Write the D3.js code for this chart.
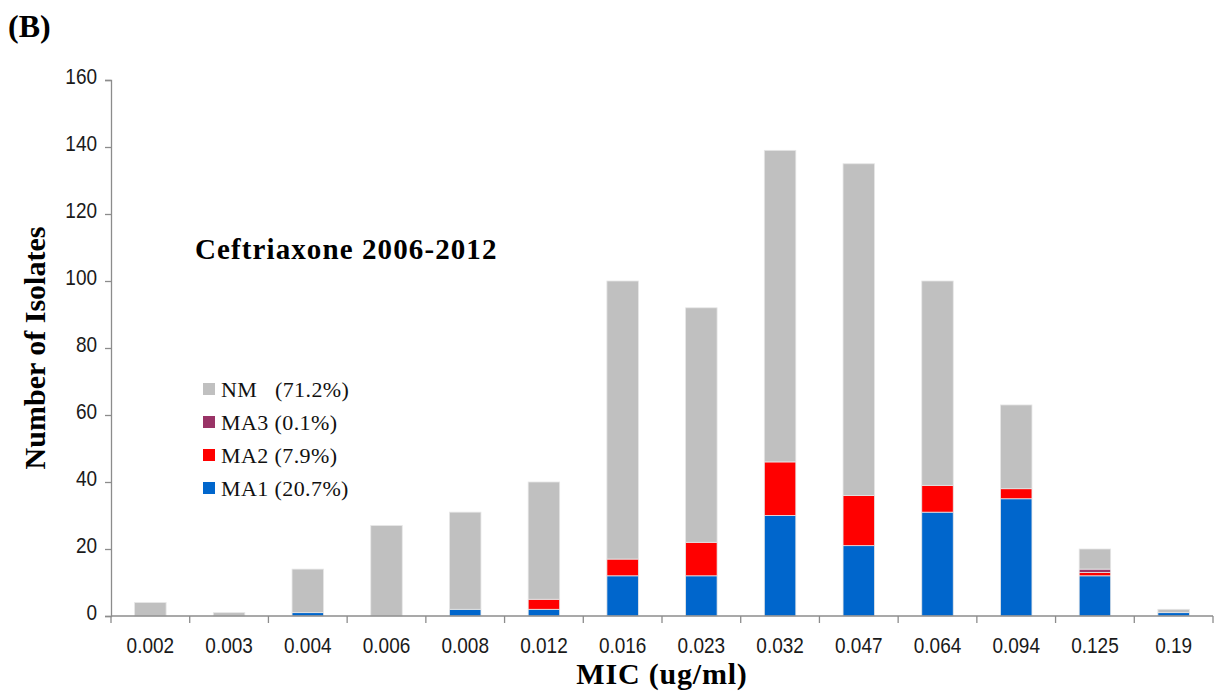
<!DOCTYPE html>
<html>
<head>
<meta charset="utf-8">
<script src="https://cdn.jsdelivr.net/npm/d3@7"></script>
<style>
  html, body { margin: 0; padding: 0; background: #fff; }
  svg { display: block; }
  .serif { font-family: "Liberation Serif", "Times New Roman", serif; }
  .sans { font-family: "Liberation Sans", Arial, sans-serif; }
</style>
</head>
<body>
<svg id="chart" width="1217" height="693"></svg>
<script>
// MIC categories (ug/ml)
const categories = ["0.002", "0.003", "0.004", "0.006", "0.008", "0.012", "0.016",
                    "0.023", "0.032", "0.047", "0.064", "0.094", "0.125", "0.19"];
// Isolate counts per group, bottom to top of each stack
const ma1 = [0, 0, 1, 0, 2, 2, 12, 12, 30, 21, 31, 35, 12, 1];
const ma2 = [0, 0, 0, 0, 0, 3, 5, 10, 16, 15, 8, 3, 1, 0];
const ma3 = [0, 0, 0, 0, 0, 0, 0, 0, 0, 0, 0, 0, 1, 0];
const nm  = [4, 1, 13, 27, 29, 35, 83, 70, 93, 99, 61, 25, 6, 1];
const seriesKeys = ["MA1", "MA2", "MA3", "NM"];
const legendLabels = ["NM\u00a0\u00a0\u00a0(71.2%)", "MA3 (0.1%)", "MA2 (7.9%)", "MA1 (20.7%)"];
const legendKeys = ["NM", "MA3", "MA2", "MA1"];
const yTicks = [0, 20, 40, 60, 80, 100, 120, 140, 160];

const colors = { MA1: "#0066CC", MA2: "#FF0000", MA3: "#993366", NM: "#C0C0C0" };

const rows = categories.map((c, i) => ({ mic: c, MA1: ma1[i], MA2: ma2[i], MA3: ma3[i], NM: nm[i] }));

const svg = d3.select("#chart");
const plotLeft = 111, plotRight = 1213, plotTop = 80, plotBottom = 616;
const axisColor = "#8c8c8c";
const tickStretch = 1.12; // tick labels are drawn slightly tall and narrow

const x = d3.scaleBand().domain(categories).range([plotLeft, plotRight])
  .paddingInner(0.6).paddingOuter(0.3);
const y = d3.scaleLinear().domain([0, 160]).range([plotBottom, plotTop]);

const stacked = d3.stack().keys(seriesKeys)(rows);

// Stacked bars
svg.append("g").selectAll("g")
  .data(stacked)
  .join("g")
  .attr("fill", d => colors[d.key])
  .selectAll("rect")
  .data(d => d.filter(s => s[1] - s[0] > 0))
  .join("rect")
  .attr("x", d => x(d.data.mic))
  .attr("width", x.bandwidth())
  .attr("y", d => y(d[1]))
  .attr("height", d => y(d[0]) - y(d[1]))
  .attr("stroke", "#e6e6e6")
  .attr("stroke-width", 0.8);

// Y axis
const yAxis = d3.axisLeft(y).tickValues(yTicks).tickSize(6).tickPadding(8);
const gy = svg.append("g").attr("transform", `translate(${plotLeft},0)`).call(yAxis);
gy.select(".domain").attr("stroke", axisColor).attr("stroke-width", 1.3);
gy.selectAll(".tick line").attr("stroke", axisColor).attr("stroke-width", 1.3);
gy.selectAll(".tick text")
  .attr("class", "sans")
  .attr("font-family", null)
  .attr("font-size", 19).attr("fill", "#1a1a1a")
  .attr("x", -14).attr("dy", null).attr("y", 3.2)
  .attr("transform", `scale(1,${tickStretch})`);

// X axis line with tick marks at category boundaries
const step = x.step();
const gx = svg.append("g");
gx.append("line")
  .attr("x1", plotLeft).attr("x2", plotRight).attr("y1", plotBottom).attr("y2", plotBottom)
  .attr("stroke", axisColor).attr("stroke-width", 1.3);
const boundaries = categories.map(c => x(c) + x.bandwidth() / 2 - step / 2);
boundaries.push(x(categories[categories.length - 1]) + x.bandwidth() / 2 + step / 2);
gx.selectAll("line.tick")
  .data(boundaries)
  .join("line")
  .attr("class", "tick")
  .attr("x1", d => d).attr("x2", d => d)
  .attr("y1", plotBottom).attr("y2", plotBottom + 7)
  .attr("stroke", axisColor).attr("stroke-width", 1.3);
gx.selectAll("text")
  .data(categories)
  .join("text")
  .attr("class", "sans")
  .attr("transform", d => `translate(${x(d) + x.bandwidth() / 2},653) scale(1,${tickStretch})`)
  .attr("text-anchor", "middle")
  .attr("font-size", 19).attr("fill", "#1a1a1a")
  .text(d => d);

// Titles
svg.append("text").attr("class", "serif").attr("x", 8).attr("y", 37)
  .attr("font-size", 32).attr("font-weight", "bold").text("(B)");
svg.append("text").attr("class", "serif").attr("x", 195).attr("y", 259)
  .attr("font-size", 29).attr("font-weight", "bold")
  .attr("letter-spacing", 1.1).text("Ceftriaxone 2006-2012");
svg.append("text").attr("class", "serif").attr("x", 662).attr("y", 684)
  .attr("text-anchor", "middle")
  .attr("font-size", 30).attr("font-weight", "bold")
  .attr("letter-spacing", 0.8).text("MIC (ug/ml)");
svg.append("text").attr("class", "serif")
  .attr("transform", "translate(45,348) rotate(-90)")
  .attr("text-anchor", "middle")
  .attr("font-size", 30).attr("font-weight", "bold").text("Number of Isolates");

// Legend
const legend = svg.append("g").selectAll("g")
  .data(legendKeys)
  .join("g")
  .attr("transform", (d, i) => `translate(203,${389 + i * 33})`);
legend.append("rect")
  .attr("x", 0).attr("y", -6).attr("width", 12).attr("height", 12)
  .attr("fill", d => colors[d]);
legend.append("text")
  .attr("class", "serif")
  .attr("x", 18).attr("y", 8)
  .attr("font-size", 22).attr("letter-spacing", 0.4).attr("fill", "#111")
  .text((d, i) => legendLabels[i]);
</script>
</body>
</html>
